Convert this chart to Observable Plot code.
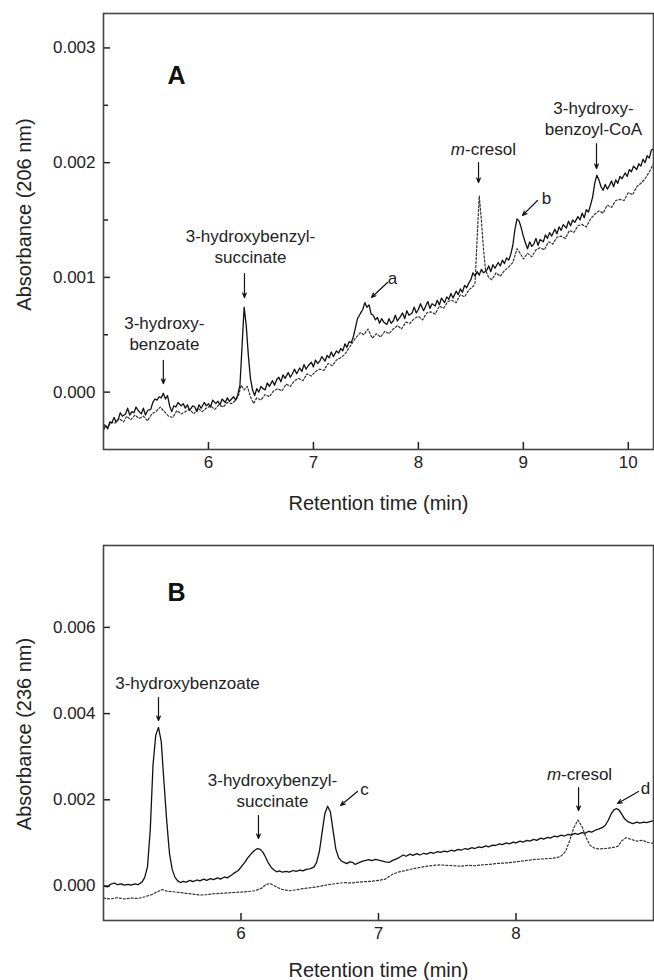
<!DOCTYPE html>
<html><head><meta charset="utf-8">
<script src="https://cdn.jsdelivr.net/npm/d3@7"></script>
<script src="https://cdn.jsdelivr.net/npm/@observablehq/plot@0.6"></script>
<style>
html,body{margin:0;padding:0;background:#fff;}
#chart svg{display:block;}
</style></head>
<body><div id="chart"></div>
<script>
// ---------- Panel A (206 nm) ----------
const xTicksA = [6, 7, 8, 9, 10];
const yTicksA = [0, 0.001, 0.002, 0.003];
const yMinorA = [0.0005, 0.0015, 0.0025];
const solidA = [
[5.00,-0.00033],[5.02,-0.00029],[5.04,-0.00032],[5.06,-0.00026],[5.08,-0.00027],[5.10,-0.00022],[5.12,-0.00026],[5.14,-0.00024],
[5.16,-0.00018],[5.18,-0.00021],[5.21,-0.00019],[5.23,-0.00014],[5.25,-0.00020],[5.27,-0.00017],[5.29,-0.00018],[5.31,-0.00013],
[5.33,-0.00016],[5.36,-0.00019],[5.38,-0.00014],[5.40,-0.00020],[5.42,-0.00016],[5.45,-0.00015],[5.47,-0.00009],[5.49,-0.00006],
[5.51,-0.00007],[5.53,-0.00004],[5.55,-0.00005],[5.57,-0.00001],[5.59,-0.00006],[5.61,-0.00003],[5.63,-0.00012],[5.65,-0.00017],
[5.67,-0.00012],[5.69,-0.00013],[5.71,-0.00009],[5.74,-0.00012],[5.76,-0.00010],[5.78,-0.00014],[5.80,-0.00011],[5.82,-0.00016],
[5.85,-0.00012],[5.87,-0.00013],[5.89,-0.00017],[5.91,-0.00011],[5.93,-0.00014],[5.96,-0.00009],[5.98,-0.00012],[6.00,-0.00010],
[6.02,-0.00013],[6.04,-0.00007],[6.07,-0.00010],[6.09,-0.00008],[6.11,-0.00011],[6.13,-0.00006],[6.16,-0.00009],[6.18,-0.00005],
[6.20,-0.00008],[6.22,-0.00006],[6.24,-0.00004],[6.26,-0.00007],[6.28,-0.00002],[6.30,0.00006],[6.32,0.00040],[6.34,0.00074],
[6.36,0.00058],[6.38,0.00032],[6.40,0.00012],[6.42,0.00002],[6.44,-0.00003],[6.46,0.00003],[6.48,0.00000],[6.50,0.00005],
[6.52,0.00003],[6.54,0.00002],[6.56,0.00008],[6.58,0.00005],[6.61,0.00010],[6.63,0.00006],[6.65,0.00011],[6.67,0.00013],
[6.69,0.00009],[6.71,0.00015],[6.73,0.00012],[6.76,0.00017],[6.78,0.00013],[6.80,0.00016],[6.82,0.00020],[6.84,0.00016],
[6.87,0.00021],[6.89,0.00018],[6.91,0.00024],[6.93,0.00020],[6.95,0.00023],[6.98,0.00026],[7.00,0.00022],[7.02,0.00028],
[7.04,0.00025],[7.06,0.00027],[7.08,0.00031],[7.11,0.00027],[7.13,0.00032],[7.15,0.00030],[7.17,0.00035],[7.19,0.00031],
[7.22,0.00036],[7.24,0.00034],[7.26,0.00038],[7.28,0.00036],[7.30,0.00042],[7.32,0.00039],[7.34,0.00044],[7.36,0.00043],
[7.38,0.00048],[7.40,0.00056],[7.42,0.00064],[7.45,0.00069],[7.47,0.00072],[7.49,0.00078],[7.51,0.00074],[7.53,0.00076],
[7.55,0.00068],[7.57,0.00067],[7.59,0.00063],[7.61,0.00065],[7.63,0.00060],[7.65,0.00064],[7.67,0.00061],[7.70,0.00059],
[7.72,0.00064],[7.74,0.00060],[7.76,0.00062],[7.78,0.00067],[7.80,0.00062],[7.83,0.00066],[7.85,0.00069],[7.87,0.00064],
[7.89,0.00071],[7.91,0.00067],[7.94,0.00069],[7.96,0.00074],[7.98,0.00069],[8.00,0.00072],[8.02,0.00077],[8.05,0.00071],
[8.07,0.00075],[8.09,0.00079],[8.11,0.00073],[8.13,0.00077],[8.16,0.00075],[8.18,0.00080],[8.20,0.00076],[8.22,0.00082],
[8.25,0.00078],[8.27,0.00083],[8.29,0.00081],[8.31,0.00086],[8.33,0.00082],[8.36,0.00088],[8.38,0.00085],[8.40,0.00090],
[8.42,0.00087],[8.44,0.00093],[8.46,0.00091],[8.48,0.00095],[8.50,0.00098],[8.52,0.00104],[8.54,0.00101],[8.56,0.00105],
[8.58,0.00102],[8.60,0.00107],[8.62,0.00104],[8.65,0.00106],[8.67,0.00110],[8.69,0.00105],[8.71,0.00111],[8.73,0.00108],
[8.76,0.00113],[8.78,0.00110],[8.80,0.00115],[8.82,0.00112],[8.84,0.00117],[8.86,0.00115],[8.88,0.00120],[8.90,0.00128],
[8.92,0.00142],[8.94,0.00151],[8.96,0.00149],[8.98,0.00143],[9.00,0.00136],[9.02,0.00130],[9.04,0.00125],[9.06,0.00131],
[9.08,0.00127],[9.10,0.00129],[9.12,0.00134],[9.14,0.00128],[9.16,0.00133],[9.19,0.00131],[9.21,0.00137],[9.23,0.00134],
[9.25,0.00139],[9.27,0.00136],[9.30,0.00142],[9.32,0.00138],[9.34,0.00144],[9.36,0.00141],[9.38,0.00146],[9.41,0.00143],
[9.43,0.00149],[9.45,0.00145],[9.47,0.00150],[9.49,0.00148],[9.52,0.00153],[9.54,0.00150],[9.56,0.00156],[9.58,0.00152],
[9.60,0.00159],[9.62,0.00157],[9.64,0.00163],[9.66,0.00170],[9.68,0.00182],[9.70,0.00189],[9.72,0.00185],[9.74,0.00179],
[9.76,0.00176],[9.78,0.00181],[9.80,0.00177],[9.82,0.00180],[9.84,0.00184],[9.86,0.00179],[9.88,0.00185],[9.90,0.00182],
[9.92,0.00188],[9.94,0.00186],[9.97,0.00191],[9.99,0.00188],[10.01,0.00194],[10.03,0.00192],[10.05,0.00197],[10.08,0.00194],
[10.10,0.00199],[10.12,0.00197],[10.14,0.00203],[10.16,0.00200],[10.18,0.00206],[10.20,0.00204],[10.22,0.00211],[10.24,0.00212]
];
const dottedA = [
[5.00,-0.00028],[5.04,-0.00031],[5.07,-0.00026],[5.11,-0.00027],[5.15,-0.00023],[5.19,-0.00026],[5.22,-0.00021],[5.26,-0.00024],
[5.30,-0.00020],[5.34,-0.00023],[5.38,-0.00021],[5.42,-0.00025],[5.46,-0.00019],[5.50,-0.00017],[5.54,-0.00013],[5.58,-0.00017],
[5.62,-0.00021],[5.66,-0.00022],[5.70,-0.00016],[5.74,-0.00019],[5.78,-0.00017],[5.82,-0.00015],[5.86,-0.00019],[5.90,-0.00014],
[5.94,-0.00017],[5.98,-0.00014],[6.02,-0.00012],[6.06,-0.00015],[6.10,-0.00011],[6.14,-0.00013],[6.18,-0.00009],[6.22,-0.00010],
[6.26,-0.00007],[6.29,-0.00002],[6.31,0.00006],[6.34,0.00002],[6.37,0.00005],[6.40,-0.00004],[6.43,-0.00010],[6.46,-0.00005],
[6.50,-0.00007],[6.54,-0.00002],[6.58,-0.00004],[6.62,0.00001],[6.66,0.00003],[6.70,0.00001],[6.74,0.00007],[6.78,0.00005],
[6.82,0.00010],[6.86,0.00012],[6.90,0.00010],[6.94,0.00016],[6.98,0.00014],[7.02,0.00018],[7.06,0.00020],[7.10,0.00019],
[7.14,0.00025],[7.18,0.00023],[7.22,0.00028],[7.26,0.00030],[7.30,0.00033],[7.35,0.00040],[7.40,0.00047],[7.45,0.00052],
[7.48,0.00050],[7.52,0.00055],[7.56,0.00047],[7.60,0.00051],[7.64,0.00048],[7.68,0.00053],[7.72,0.00051],[7.76,0.00055],
[7.80,0.00058],[7.84,0.00055],[7.88,0.00061],[7.92,0.00060],[7.96,0.00064],[8.00,0.00066],[8.04,0.00063],[8.08,0.00069],
[8.12,0.00070],[8.16,0.00068],[8.20,0.00075],[8.24,0.00073],[8.28,0.00079],[8.32,0.00080],[8.36,0.00078],[8.40,0.00085],
[8.44,0.00083],[8.48,0.00089],[8.52,0.00092],[8.54,0.00095],[8.56,0.00135],[8.58,0.00171],[8.60,0.00150],[8.62,0.00125],
[8.64,0.00106],[8.67,0.00100],[8.70,0.00098],[8.74,0.00104],[8.78,0.00101],[8.82,0.00106],[8.86,0.00109],[8.90,0.00113],
[8.94,0.00125],[8.97,0.00121],[9.00,0.00116],[9.04,0.00121],[9.08,0.00118],[9.12,0.00124],[9.16,0.00126],[9.20,0.00124],
[9.24,0.00131],[9.28,0.00129],[9.32,0.00135],[9.36,0.00136],[9.40,0.00134],[9.44,0.00141],[9.48,0.00139],[9.52,0.00145],
[9.56,0.00146],[9.60,0.00144],[9.64,0.00151],[9.68,0.00155],[9.72,0.00158],[9.76,0.00156],[9.80,0.00163],[9.84,0.00161],
[9.88,0.00167],[9.92,0.00168],[9.96,0.00167],[10.00,0.00174],[10.04,0.00172],[10.08,0.00179],[10.12,0.00182],[10.16,0.00186],
[10.20,0.00192],[10.24,0.00199]
];
const notesA = [
  {text: "A", t: 5.696, v: 0.002752, bold: true},
  {text: "3-hydroxy-\nbenzoate", t: 5.58, v: 0.000515},
  {text: "3-hydroxybenzyl-\nsuccinate", t: 6.40, v: 0.001278},
  {text: "a", t: 7.753, v: 0.000999},
  {text: "m-cresol", t: 8.62, v: 0.002124},
  {text: "b", t: 9.221, v: 0.001697},
  {text: "3-hydroxy-\nbenzoyl-CoA", t: 9.668, v: 0.002394}
];
const arrowsA = [
  {t1: 5.57, v1: 0.000277, t2: 5.57, v2: 0.000075},
  {t1: 6.343, v1: 0.001034, t2: 6.343, v2: 0.000825},
  {t1: 7.706, v1: 0.000956, t2: 7.553, v2: 0.000825},
  {t1: 8.573, v1: 0.002001, t2: 8.573, v2: 0.001827},
  {t1: 9.135, v1: 0.00167, t2: 8.992, v2: 0.00154},
  {t1: 9.697, v1: 0.002167, t2: 9.697, v2: 0.001949}
];

// ---------- Panel B (236 nm) ----------
const xTicksB = [6, 7, 8];
const yTicksB = [0, 0.002, 0.004, 0.006];
const solidB = [
[5.00,0.00000],[5.03,-0.00002],[5.05,0.00004],[5.08,0.00007],[5.10,0.00003],[5.13,0.00005],[5.15,0.00002],[5.18,0.00004],
[5.20,0.00002],[5.23,0.00005],[5.25,0.00003],[5.28,0.00009],[5.30,0.00020],[5.32,0.00045],[5.34,0.00130],[5.36,0.00280],
[5.38,0.00350],[5.40,0.00368],[5.42,0.00335],[5.44,0.00240],[5.46,0.00150],[5.48,0.00075],[5.50,0.00038],[5.52,0.00020],
[5.54,0.00012],[5.56,0.00008],[5.58,0.00011],[5.60,0.00009],[5.63,0.00013],[5.65,0.00010],[5.68,0.00014],[5.70,0.00012],
[5.73,0.00016],[5.75,0.00013],[5.78,0.00017],[5.80,0.00015],[5.83,0.00019],[5.85,0.00016],[5.88,0.00021],[5.90,0.00019],
[5.93,0.00025],[5.95,0.00030],[5.98,0.00036],[6.00,0.00044],[6.03,0.00056],[6.05,0.00066],[6.08,0.00077],[6.10,0.00083],
[6.12,0.00087],[6.14,0.00085],[6.16,0.00078],[6.18,0.00066],[6.20,0.00053],[6.22,0.00043],[6.24,0.00037],[6.26,0.00033],
[6.28,0.00035],[6.30,0.00032],[6.33,0.00034],[6.35,0.00032],[6.38,0.00036],[6.40,0.00034],[6.43,0.00037],[6.45,0.00035],
[6.48,0.00039],[6.50,0.00040],[6.53,0.00044],[6.55,0.00055],[6.57,0.00080],[6.59,0.00125],[6.61,0.00168],[6.63,0.00185],
[6.65,0.00172],[6.67,0.00128],[6.69,0.00085],[6.71,0.00066],[6.73,0.00058],[6.75,0.00055],[6.77,0.00052],[6.79,0.00056],
[6.81,0.00055],[6.83,0.00050],[6.85,0.00053],[6.88,0.00057],[6.90,0.00059],[6.93,0.00061],[6.95,0.00059],[6.98,0.00062],
[7.00,0.00060],[7.03,0.00058],[7.05,0.00056],[7.08,0.00055],[7.10,0.00059],[7.13,0.00063],[7.15,0.00066],[7.18,0.00072],
[7.20,0.00069],[7.23,0.00074],[7.25,0.00071],[7.28,0.00075],[7.30,0.00072],[7.33,0.00076],[7.35,0.00074],[7.38,0.00078],
[7.40,0.00076],[7.43,0.00080],[7.45,0.00078],[7.48,0.00081],[7.50,0.00079],[7.53,0.00083],[7.55,0.00081],[7.58,0.00085],
[7.60,0.00083],[7.63,0.00087],[7.65,0.00085],[7.68,0.00089],[7.70,0.00087],[7.73,0.00091],[7.75,0.00089],[7.78,0.00093],
[7.80,0.00091],[7.83,0.00095],[7.85,0.00094],[7.88,0.00098],[7.90,0.00096],[7.93,0.00100],[7.95,0.00098],[7.98,0.00102],
[8.00,0.00100],[8.03,0.00104],[8.05,0.00102],[8.08,0.00106],[8.10,0.00104],[8.13,0.00108],[8.15,0.00106],[8.18,0.00111],
[8.20,0.00109],[8.23,0.00113],[8.25,0.00111],[8.28,0.00116],[8.30,0.00114],[8.33,0.00118],[8.35,0.00116],[8.38,0.00120],
[8.40,0.00118],[8.43,0.00122],[8.45,0.00120],[8.48,0.00124],[8.50,0.00122],[8.53,0.00127],[8.55,0.00125],[8.58,0.00130],
[8.60,0.00132],[8.63,0.00136],[8.65,0.00141],[8.67,0.00152],[8.69,0.00166],[8.71,0.00176],[8.73,0.00180],[8.75,0.00176],
[8.77,0.00166],[8.79,0.00156],[8.81,0.00150],[8.83,0.00147],[8.85,0.00145],[8.88,0.00148],[8.90,0.00146],[8.93,0.00148],
[8.95,0.00147],[8.98,0.00150],[9.00,0.00151]
];
const dottedB = [
[5.00,-0.00028],[5.05,-0.00030],[5.10,-0.00027],[5.15,-0.00030],[5.20,-0.00028],[5.25,-0.00029],[5.30,-0.00025],[5.35,-0.00020],
[5.40,-0.00012],[5.43,-0.00008],[5.46,-0.00012],[5.50,-0.00013],[5.55,-0.00015],[5.60,-0.00017],[5.65,-0.00019],[5.70,-0.00021],
[5.75,-0.00020],[5.80,-0.00018],[5.85,-0.00017],[5.90,-0.00016],[5.95,-0.00015],[6.00,-0.00014],[6.05,-0.00013],[6.10,-0.00011],
[6.15,-0.00005],[6.18,0.00003],[6.21,0.00006],[6.24,0.00001],[6.27,-0.00004],[6.30,-0.00008],[6.35,-0.00011],[6.40,-0.00009],
[6.45,-0.00006],[6.50,-0.00004],[6.55,-0.00002],[6.60,0.00001],[6.65,0.00004],[6.70,0.00006],[6.75,0.00008],[6.80,0.00007],
[6.85,0.00009],[6.90,0.00010],[6.95,0.00011],[7.00,0.00013],[7.05,0.00016],[7.10,0.00027],[7.15,0.00033],[7.20,0.00036],
[7.25,0.00040],[7.30,0.00043],[7.35,0.00046],[7.40,0.00048],[7.45,0.00049],[7.50,0.00048],[7.55,0.00047],[7.60,0.00046],
[7.65,0.00048],[7.70,0.00047],[7.75,0.00049],[7.80,0.00050],[7.85,0.00052],[7.90,0.00053],[7.95,0.00054],[8.00,0.00056],
[8.05,0.00058],[8.10,0.00060],[8.15,0.00062],[8.20,0.00063],[8.25,0.00064],[8.30,0.00066],[8.33,0.00070],[8.36,0.00080],
[8.39,0.00105],[8.42,0.00135],[8.45,0.00153],[8.48,0.00138],[8.51,0.00112],[8.54,0.00094],[8.57,0.00088],[8.60,0.00086],
[8.65,0.00087],[8.70,0.00089],[8.74,0.00092],[8.77,0.00105],[8.80,0.00112],[8.84,0.00108],[8.88,0.00104],[8.92,0.00106],
[8.96,0.00101],[9.00,0.00099]
];
const notesB = [
  {text: "B", t: 5.531, v: 0.006787, bold: true},
  {text: "3-hydroxybenzoate", t: 5.611, v: 0.004722},
  {text: "3-hydroxybenzyl-\nsuccinate", t: 6.229, v: 0.002239},
  {text: "c", t: 6.898, v: 0.002262},
  {text: "m-cresol", t: 8.462, v: 0.00261},
  {text: "d", t: 8.942, v: 0.002285}
];
const arrowsB = [
  {t1: 5.40, v1: 0.004374, t2: 5.40, v2: 0.00384},
  {t1: 6.127, v1: 0.001636, t2: 6.127, v2: 0.001102},
  {t1: 6.847, v1: 0.002193, t2: 6.724, v2: 0.001868},
  {t1: 8.455, v1: 0.002285, t2: 8.455, v2: 0.001752},
  {t1: 8.891, v1: 0.002193, t2: 8.738, v2: 0.001914}
];

const FONT = "'Liberation Sans', Arial, Helvetica, sans-serif";
const fmtY = d3.format(".3f");
const fmtX = d3.format("d");
const W = 654, ML = 103, MR = 1;

function panel({height, marginTop, marginBottom, xDomain, yDomain, xTicks, yTicks, yMinor, solid, dotted, notes, arrows, yLabel, yLabelDy, xLabelDy}) {
  const marks = [
    Plot.axisY(yTicks, {tickSize: 0, tickPadding: 8, tickFormat: fmtY, fontSize: 17, label: null}),
    Plot.axisX(xTicks, {tickSize: 0, tickPadding: 6, tickFormat: fmtX, fontSize: 17, label: null}),
    // inward tick marks (negative tick size points into the frame)
    Plot.axisY(yTicks, {tickSize: -7, fill: "none", label: null, stroke: "#222", strokeWidth: 1.5}),
    Plot.axisX(xTicks, {tickSize: 7, dy: -7, fill: "none", label: null, stroke: "#222", strokeWidth: 1.5})
  ];
  if (yMinor) marks.push(Plot.axisY(yMinor, {tickSize: -5, fill: "none", label: null, stroke: "#222", strokeWidth: 1.5}));
  marks.push(
    Plot.line(dotted, {x: d => d[0], y: d => d[1], stroke: "#333", strokeWidth: 1.2, strokeDasharray: "2,2"}),
    Plot.line(solid, {x: d => d[0], y: d => d[1], stroke: "#111", strokeWidth: 1.3}),
    Plot.arrow(arrows, {x1: "t1", y1: "v1", x2: "t2", y2: "v2", stroke: "#111", strokeWidth: 1.2, headLength: 6, headAngle: 45}),
    Plot.text(notes.filter(d => !d.bold), {x: "t", y: "v", text: "text", fontSize: 17, lineHeight: 1.25, fill: "#222"}),
    Plot.text(notes.filter(d => d.bold), {x: "t", y: "v", text: "text", fontSize: 25, fontWeight: "bold", fill: "#111"}),
    Plot.text(["Retention time (min)"], {frameAnchor: "bottom", dy: xLabelDy, textAnchor: "middle", lineAnchor: "middle", fontSize: 20, fill: "#222"}),
    Plot.text([yLabel], {frameAnchor: "left", rotate: -90, dx: -79, dy: yLabelDy, textAnchor: "middle", lineAnchor: "middle", fontSize: 20, fill: "#222"}),
    Plot.frame({stroke: "#444", strokeWidth: 1.6})
  );
  const svg = Plot.plot({
    width: W, height, marginLeft: ML, marginRight: MR, marginTop, marginBottom,
    style: {fontFamily: FONT, fontSize: "17px", color: "#222", background: "#fff", overflow: "visible"},
    x: {domain: xDomain},
    y: {domain: yDomain},
    marks
  });
  const ns = "http://www.w3.org/2000/svg";
  svg.querySelectorAll("text").forEach(t => {
    if (t.textContent === "m-cresol") {
      t.textContent = "";
      const a = document.createElementNS(ns, "tspan");
      a.setAttribute("font-style", "italic");
      a.textContent = "m";
      const b = document.createElementNS(ns, "tspan");
      b.textContent = "-cresol";
      t.append(a, b);
    }
  });
  return svg;
}

const root = document.getElementById("chart");
root.append(panel({
  height: 530, marginTop: 13, marginBottom: 81,
  xDomain: [5, 10.24], yDomain: [-0.0005, 0.0033],
  xTicks: xTicksA, yTicks: yTicksA, yMinor: yMinorA,
  solid: solidA, dotted: dottedA, notes: notesA, arrows: arrowsA,
  yLabel: "Absorbance (206 nm)", yLabelDy: -17, xLabelDy: 54
}));
root.append(panel({
  height: 450, marginTop: 15, marginBottom: 60,
  xDomain: [5, 9], yDomain: [-0.0008, 0.0079],
  xTicks: xTicksB, yTicks: yTicksB, yMinor: null,
  solid: solidB, dotted: dottedB, notes: notesB, arrows: arrowsB,
  yLabel: "Absorbance (236 nm)", yLabelDy: 1, xLabelDy: 50
}));
</script>
</body></html>
